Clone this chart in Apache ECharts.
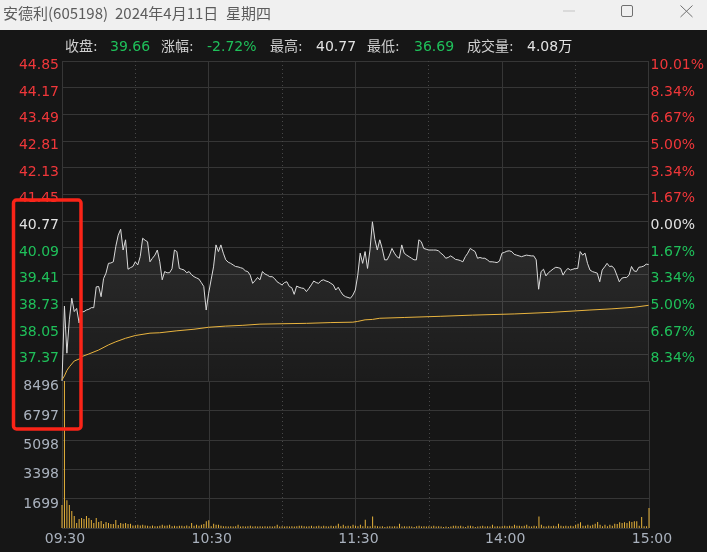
<!DOCTYPE html>
<html><head><meta charset="utf-8">
<script src="https://cdn.jsdelivr.net/npm/echarts@6/dist/echarts.min.js"></script>
<style>html,body{margin:0;padding:0;background:#161616;overflow:hidden}#c{width:707px;height:552px}</style>
</head><body><div id="c"></div>
<script>
// ---------- data ----------
const prevClose = 40.77;
const priceMin = 36.69, priceMax = 44.85, priceStep = 0.68;
const volMax = 8496, volStep = 1699.2;
const timeTickMinutes = [0, 60, 120, 180, 240];
const timeTickLabels = ['09:30', '10:30', '11:30', '14:00', '15:00'];

const prices = [
 36.69,38.60,37.40,38.25,38.80,38.46,38.54,38.17,38.45,38.46,
 38.50,38.52,38.56,38.56,39.09,39.10,38.84,39.30,39.44,39.69,
 39.70,39.73,40.12,40.41,40.56,40.03,40.29,39.54,39.58,39.61,
 39.73,39.65,39.86,40.33,40.28,40.24,39.73,39.82,39.90,40.03,
 39.73,39.27,39.48,39.45,39.45,39.55,40.03,39.99,39.56,39.54,
 39.52,39.45,39.48,39.40,39.35,39.32,39.29,39.20,39.10,38.50,
 38.93,39.27,39.60,40.16,39.99,40.16,39.95,39.78,39.72,39.69,
 39.65,39.61,39.60,39.58,39.56,39.50,39.48,39.39,39.18,39.25,
 39.33,39.27,39.48,39.42,39.39,39.35,39.35,39.30,39.22,39.18,
 39.14,39.20,39.22,39.10,39.07,38.90,39.11,39.08,39.06,39.05,
 38.97,39.05,39.14,39.24,39.20,39.18,39.25,39.27,39.24,39.22,
 39.18,39.14,39.01,39.08,38.97,38.88,38.84,38.82,38.80,38.88,
 39.01,39.39,39.95,39.69,39.99,39.56,40.03,40.75,40.30,40.03,
 40.29,40.07,39.78,39.78,39.90,40.07,39.95,39.86,39.82,40.16,
 39.95,39.90,39.86,39.82,39.78,39.78,40.29,40.24,40.07,40.05,
 40.03,40.03,40.03,40.03,40.01,39.95,39.90,39.82,39.84,39.88,
 39.84,39.79,39.78,39.76,39.73,39.86,39.95,40.07,40.03,39.99,
 39.82,39.84,39.82,39.82,39.78,39.73,39.73,39.72,39.71,39.75,
 39.95,39.97,40.00,40.01,39.99,39.92,39.90,39.88,39.86,39.88,
 39.90,39.89,39.88,39.88,39.78,39.03,39.48,39.54,39.37,39.45,
 39.50,39.55,39.59,39.58,39.56,39.39,39.50,39.56,39.52,39.54,
 39.56,39.56,39.99,39.90,39.95,39.69,39.52,39.48,39.46,39.44,
 39.22,39.52,39.60,39.69,39.61,39.62,39.55,39.39,39.22,39.31,
 39.33,39.33,39.39,39.61,39.50,39.48,39.59,39.60,39.62,39.67,
 39.66
];

const avgMinutes = [0,1,2,3,5,7,8,11,15,19,22,26,30,36,40,47,54,60,67,74,81,90,100,110,119,121,124,127,130,140,155,168,185,200,216,225,234,240];
const avgPrices  = [36.72,36.82,36.96,37.05,37.20,37.25,37.31,37.38,37.48,37.61,37.69,37.78,37.85,37.91,37.92,37.97,38.01,38.06,38.09,38.11,38.14,38.15,38.16,38.18,38.19,38.21,38.25,38.26,38.29,38.31,38.34,38.37,38.40,38.44,38.50,38.53,38.57,38.62];

const volumes = [
 1330,8496,1600,1330,980,700,290,520,580,520,
 700,580,460,290,580,350,400,230,350,290,
 230,230,460,170,290,250,290,230,250,150,
 150,190,150,190,150,130,100,150,100,100,
 130,190,130,150,190,100,130,100,130,130,
 100,150,100,290,130,190,130,190,230,390,
 445,100,250,190,190,130,100,100,80,100,
 80,100,190,80,100,80,100,130,80,100,
 80,100,80,100,80,100,80,100,190,80,
 100,80,100,80,100,80,100,130,130,100,
 80,100,130,80,100,130,80,130,100,80,
 130,100,130,250,100,190,100,130,100,190,
 130,100,190,100,480,100,100,670,130,100,
 80,100,60,80,100,80,100,80,250,80,
 100,80,100,80,60,100,130,80,100,80,
 100,80,130,80,100,80,60,80,60,80,
 130,130,100,130,80,60,130,130,100,60,
 80,100,130,80,100,80,190,80,100,80,
 100,130,100,130,100,190,130,130,100,130,
 190,100,80,130,100,670,190,100,80,130,
 100,130,100,250,130,100,130,100,130,100,
 190,250,330,130,130,190,130,190,250,345,
 190,100,190,100,190,130,250,230,330,290,
 330,290,385,345,385,385,130,635,100,96,
 1150
];

const titleParts = ['安德利(605198)', '2024年4月11日', '星期四'];
const infoLabels = ['收盘:', '涨幅:', '最高:', '最低:', '成交量:'];
const infoValues = ['39.66', '-2.72%', '40.77', '36.69', '4.08万'];

// ---------- style ----------
const RED = '#f0373a', GREEN = '#1fc05a', WHITE = '#e2e2e2', GRAYLBL = '#a9b1bd';
const GRID = '#363636', FONT = 'DejaVu Sans', CJK = '"DejaVu Sans","Noto Sans CJK SC"';
const near = (a, b) => Math.abs(a - b) < 0.001;
const priceColor = v => { v = +v; return near(v, prevClose) ? WHITE : (v > prevClose ? RED : GREEN); };
const valColors = [GREEN, GREEN, WHITE, GREEN, WHITE];
const infoLabelX = [65, 161, 270, 367, 467];
const infoValueX = [110, 207, 316, 414, 527];
const titleX = [3, 115, 226];

const chart = echarts.init(document.getElementById('c'), null, {renderer: 'canvas'});

const xCommon = {
  type: 'value', min: 0, max: 240, interval: 60,
  axisLine: {show: false}, axisTick: {show: false},
  splitLine: {show: true, lineStyle: {color: GRID, width: 1}},
  minorTick: {show: false, splitNumber: 2},
  minorSplitLine: {show: true, lineStyle: {color: '#484848', type: [1, 3], width: 1}}
};

const graphics = [
  {type: 'rect', shape: {x: 0, y: 0, width: 707, height: 30}, style: {fill: '#f0f0f0'}, z: 10},
  ...titleParts.map((t, i) => ({type: 'text', x: titleX[i], y: 13, style: {text: t, fill: '#5c5c5c', font: '15px "Noto Sans CJK SC"', textVerticalAlign: 'middle'}, z: 11})),
  {type: 'line', shape: {x1: 563, y1: 11, x2: 575, y2: 11}, style: {stroke: '#c4c4c4', lineWidth: 1}, z: 11},
  {type: 'rect', shape: {x: 621.5, y: 5.5, width: 11, height: 11, r: 1.5}, style: {fill: 'none', stroke: '#707070', lineWidth: 1}, z: 11},
  {type: 'line', shape: {x1: 680.5, y1: 5.5, x2: 692.5, y2: 17}, style: {stroke: '#707070', lineWidth: 1}, z: 11},
  {type: 'line', shape: {x1: 692.5, y1: 5.5, x2: 680.5, y2: 17}, style: {stroke: '#707070', lineWidth: 1}, z: 11},
  ...infoLabels.map((t, i) => ({type: 'text', x: infoLabelX[i], y: 47, style: {text: t, fill: '#d0d0d0', font: '14px ' + CJK, textVerticalAlign: 'middle'}, z: 11})),
  ...infoValues.map((t, i) => ({type: 'text', x: infoValueX[i], y: 47, style: {text: t, fill: valColors[i], font: '14px ' + CJK, textVerticalAlign: 'middle'}, z: 11})),
  {type: 'rect', shape: {x: 13.5, y: 200, width: 67.5, height: 229, r: 3}, style: {fill: 'none', stroke: '#fa2418', lineWidth: 3.5}, z: 20}
];

chart.setOption({
  backgroundColor: '#161616',
  animation: false,
  grid: [
    {left: 62, top: 61, width: 587, height: 320},
    {left: 62, top: 381, width: 587, height: 147}
  ],
  xAxis: [
    Object.assign({gridIndex: 0, axisLabel: {show: false}}, xCommon),
    Object.assign({gridIndex: 1, axisLabel: {
      show: true, color: GRAYLBL, fontSize: 14, fontFamily: FONT, margin: 4, padding: [0, 0, 0, 6],
      formatter: v => { const k = timeTickMinutes.indexOf(v); return k >= 0 ? timeTickLabels[k] : ''; }
    }}, xCommon)
  ],
  yAxis: [
    {gridIndex: 0, type: 'value', position: 'left', min: priceMin, max: priceMax, interval: priceStep,
     axisLine: {show: false}, axisTick: {show: false},
     splitLine: {show: true, lineStyle: {color: GRID, width: 1}},
     axisLabel: {showMinLabel: false, showMaxLabel: true, fontSize: 14, fontFamily: FONT, margin: 3,
       verticalAlign: 'top', lineHeight: 9,
       formatter: v => v.toFixed(2), color: v => priceColor(v)}},
    {gridIndex: 0, type: 'value', position: 'right', min: priceMin, max: priceMax, interval: priceStep,
     axisLine: {show: false}, axisTick: {show: false}, splitLine: {show: false},
     axisLabel: {showMinLabel: false, showMaxLabel: true, fontSize: 14, fontFamily: FONT, margin: 2,
       verticalAlign: 'top', lineHeight: 9,
       formatter: v => Math.abs((v - prevClose) / prevClose * 100).toFixed(2) + '%', color: v => priceColor(v)}},
    {gridIndex: 1, type: 'value', position: 'left', min: 0, max: volMax, interval: volStep,
     axisLine: {show: false}, axisTick: {show: false},
     splitLine: {show: true, lineStyle: {color: GRID, width: 1}},
     axisLabel: {showMinLabel: false, showMaxLabel: true, fontSize: 14, fontFamily: FONT, margin: 3, color: GRAYLBL,
       verticalAlign: 'top', lineHeight: 11,
       formatter: v => String(Math.round(v))}}
  ],
  series: [
    {type: 'line', xAxisIndex: 0, yAxisIndex: 0, showSymbol: false, symbol: 'none',
     data: prices.map((p, i) => [i, p]),
     lineStyle: {color: '#dadada', width: 1},
     areaStyle: {origin: 'start', color: new echarts.graphic.LinearGradient(0, 0, 0, 1, [
       {offset: 0, color: 'rgba(255,255,255,0.14)'}, {offset: 1, color: 'rgba(255,255,255,0.03)'}])},
     z: 3},
    {type: 'line', xAxisIndex: 0, yAxisIndex: 0, showSymbol: false, symbol: 'none',
     data: avgMinutes.map((m, i) => [m, avgPrices[i]]),
     lineStyle: {color: '#e9b43f', width: 1}, z: 4},
    {type: 'bar', xAxisIndex: 1, yAxisIndex: 2, barWidth: 1,
     data: volumes.map((v, i) => [i, v]),
     itemStyle: {color: '#e6b23b'}}
  ],
  graphic: graphics
});
</script></body></html>
